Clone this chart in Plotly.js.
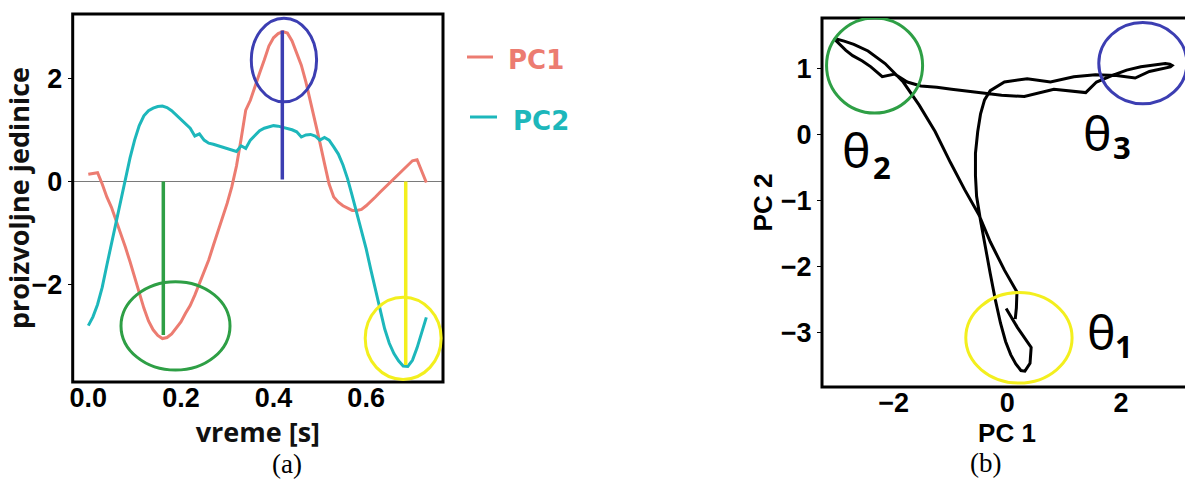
<!DOCTYPE html>
<html><head><meta charset="utf-8">
<script src="https://cdn.plot.ly/plotly-3.0.1.min.js"></script>
<style>html,body{margin:0;padding:0;overflow:hidden;background:#fff}#chart{width:1195px;height:479px}</style>
</head><body><div id="chart"></div>
<script>
// ---- data ----
const time = [0.00,0.01,0.02,0.03,0.04,0.05,0.06,0.07,0.08,0.09,
              0.10,0.11,0.12,0.13,0.14,0.15,0.16,0.17,0.18,0.19,
              0.20,0.21,0.22,0.23,0.24,0.25,0.26,0.27,0.28,0.29,
              0.30,0.31,0.32,0.33,0.34,0.35,0.36,0.37,0.38,0.39,
              0.40,0.41,0.42,0.43,0.44,0.45,0.46,0.47,0.48,0.49,
              0.50,0.51,0.52,0.53,0.54,0.55,0.56,0.57,0.58,0.59,
              0.60,0.61,0.62,0.63,0.64,0.65,0.66,0.67,0.68,0.69,
              0.70,0.71,0.72,0.73];
const pc1 = [0.14,0.16,0.17,-0.05,-0.30,-0.50,-0.75,-1.00,-1.27,-1.55,
             -1.83,-2.15,-2.45,-2.70,-2.87,-2.98,-3.04,-3.02,-2.95,-2.84,
             -2.72,-2.55,-2.40,-2.20,-1.98,-1.76,-1.52,-1.24,-0.98,-0.70,
             -0.42,-0.10,0.30,0.82,1.38,1.57,1.85,2.10,2.35,2.62,
             2.78,2.86,2.90,2.87,2.72,2.50,2.25,1.92,1.55,1.17,
             0.76,0.35,-0.05,-0.30,-0.40,-0.47,-0.52,-0.56,-0.56,-0.54,
             -0.47,-0.39,-0.30,-0.21,-0.12,-0.03,0.06,0.15,0.24,0.31,
             0.40,0.42,0.18,-0.02];
const pc2 = [-2.79,-2.62,-2.38,-2.05,-1.62,-1.21,-0.83,-0.42,0.05,0.45,
             0.80,1.08,1.27,1.37,1.42,1.45,1.46,1.43,1.37,1.28,
             1.20,1.12,1.03,0.88,0.92,0.80,0.74,0.72,0.69,0.66,
             0.63,0.60,0.58,0.69,0.64,0.80,0.90,0.98,1.03,1.06,
             1.08,1.07,1.05,1.03,1.00,0.96,0.86,0.90,0.91,0.88,
             0.80,0.85,0.80,0.67,0.53,0.32,0.05,-0.28,-0.62,-0.93,
             -1.30,-1.70,-2.10,-2.50,-2.85,-3.13,-3.33,-3.47,-3.57,-3.58,
             -3.46,-3.22,-2.92,-2.63];
const seriesNames = ['PC1', 'PC2'];
const leftXTicks = [0, 0.2, 0.4, 0.6];
const leftYTicks = [-2, 0, 2];
const rightXTicks = [-2, 0, 2];
const rightYTicks = [-3, -2, -1, 0, 1];
const phaseLabels = ['\u03b8', '\u03b8', '\u03b8'];
const phaseSubs = ['1', '2', '3'];
// marked moments (time, PC value) on panel (a)
const markTimes = [0.162, 0.419, 0.6855];
const markValues = [-2.97, 2.92, -3.55];

// ---- styling / layout ----
const W = 1195, H = 479;
const px = X => X / W, py = Y => 1 - Y / H;
const C1 = '#EC7C71', C2 = '#1DB7BB';
const GREEN = '#2E9F45', BLUE = '#3C3EB2', YELLOW = '#F3EF1E';
const tickFont = {family: 'Liberation Sans, Arial, sans-serif', size: 27, color: '#000', weight: 'bold'};
const titleFont = {family: 'Open Sans, sans-serif', size: 27, color: '#111', weight: 'bold'};
const titleFont2 = {family: 'Liberation Sans, Arial, sans-serif', size: 26, color: '#000', weight: 'bold'};

const leftDomY = [1 - 382 / H, 1 - 14 / H];
const rightDomY = [1 - 387 / H, 1 - 18 / H];

const traces = [
  {x: time, y: pc1, name: seriesNames[0], mode: 'lines', line: {color: C1, width: 3}, xaxis: 'x', yaxis: 'y'},
  {x: time, y: pc2, name: seriesNames[1], mode: 'lines', line: {color: C2, width: 3}, xaxis: 'x', yaxis: 'y'},
  {x: pc1, y: pc2, name: 'trajektorija', mode: 'lines', line: {color: '#000', width: 3}, xaxis: 'x2', yaxis: 'y2'}
];

const axisCommon = {showline: false, showgrid: false, tickfont: tickFont, fixedrange: true};
const yTicks = {ticks: 'outside', ticklen: 4, tickwidth: 1, tickcolor: '#000'};

const frame = (xr, yr) => ({type: 'rect', xref: xr + ' domain', yref: yr + ' domain', x0: 0, x1: 1, y0: 0, y1: 1,
  line: {color: '#000', width: 3}, layer: 'above'});

const shapes = [
  frame('x', 'y'), frame('x2', 'y2'),
  // panel (a) marker lines
  {type: 'line', xref: 'x', yref: 'y', x0: markTimes[0], x1: markTimes[0], y0: 0, y1: markValues[0], line: {color: GREEN, width: 3.5}},
  {type: 'line', xref: 'x', yref: 'y', x0: markTimes[1], x1: markTimes[1], y0: 0.04, y1: markValues[1], line: {color: BLUE, width: 3.5}},
  {type: 'line', xref: 'x', yref: 'y', x0: markTimes[2], x1: markTimes[2], y0: 0, y1: markValues[2], line: {color: YELLOW, width: 3.5}},
  // panel (a) ellipses
  {type: 'circle', xref: 'x', yref: 'y', x0: 0.0706, x1: 0.306, y0: -1.94, y1: -3.65, line: {color: GREEN, width: 3}},
  {type: 'circle', xref: 'x', yref: 'y', x0: 0.352, x1: 0.493, y0: 3.16, y1: 1.54, line: {color: BLUE, width: 3}},
  {type: 'circle', xref: 'x', yref: 'y', x0: 0.598, x1: 0.762, y0: -2.24, y1: -3.83, line: {color: YELLOW, width: 3}},
  // panel (b) circles
  {type: 'circle', xref: 'x2', yref: 'y2', x0: -3.18, x1: -1.49, y0: 1.77, y1: 0.33, line: {color: GREEN, width: 3}},
  {type: 'circle', xref: 'x2', yref: 'y2', x0: 1.61, x1: 3.16, y0: 1.70, y1: 0.47, line: {color: BLUE, width: 3}},
  {type: 'circle', xref: 'x2', yref: 'y2', x0: -0.73, x1: 1.14, y0: -2.39, y1: -3.76, line: {color: YELLOW, width: 3}},
  // legend dashes
  {type: 'line', xref: 'paper', yref: 'paper', x0: px(467), x1: px(493), y0: py(57), y1: py(57), line: {color: C1, width: 3}},
  {type: 'line', xref: 'paper', yref: 'paper', x0: px(470), x1: px(497), y0: py(117), y1: py(117), line: {color: C2, width: 3}}
];

const legFont = c => ({family: 'DejaVu Sans, sans-serif', size: 26, color: c, weight: 'bold'});
const thetaFont = {family: 'Noto Sans, sans-serif', size: 48, color: '#000'};
const subFont = {family: 'Open Sans, sans-serif', size: 31, color: '#000', weight: 'bold'};
const capFont = {family: 'Liberation Serif, Times New Roman, serif', size: 27, color: '#000'};
const ann = (text, X, Y, font, xa, ya) => ({text, x: px(X), y: py(Y), xref: 'paper', yref: 'paper',
  xanchor: xa || 'center', yanchor: ya || 'middle', showarrow: false, font});

const annotations = [
  ann(seriesNames[0], 506, 60, legFont(C1), 'left'),
  ann(seriesNames[1], 511, 121, legFont(C2), 'left'),
  ann(phaseLabels[1], 856, 150, thetaFont),
  ann(phaseSubs[1], 882, 167, subFont),
  ann(phaseLabels[2], 1097, 132, thetaFont),
  ann(phaseSubs[2], 1122, 147, subFont),
  ann(phaseLabels[0], 1101, 331, thetaFont),
  ann(phaseSubs[0], 1124, 346, subFont),
  ann('(a)', 287, 464, capFont),
  ann('(b)', 985, 463, capFont)
];

const layout = {
  width: W, height: H, margin: {l: 0, r: 0, t: 0, b: 0},
  paper_bgcolor: '#fff', plot_bgcolor: '#fff', showlegend: false,
  xaxis: Object.assign({}, axisCommon, {domain: [px(72.7), px(443)], range: [-0.0337, 0.766],
    anchor: 'free', position: leftDomY[0] + 3 / H, ticks: '',
    tickvals: leftXTicks, tickformat: '.1f', zeroline: false,
    title: {text: 'vreme [s]', font: titleFont, standoff: 0}}),
  yaxis: Object.assign({}, axisCommon, yTicks, {domain: leftDomY, range: [-3.88, 3.24],
    tickvals: leftYTicks, zeroline: true, zerolinecolor: '#7a7a7a', zerolinewidth: 1,
    title: {text: 'proizvoljne jedinice', font: titleFont, standoff: 0}}),
  xaxis2: Object.assign({}, axisCommon, {domain: [px(822), px(1192)], range: [-3.26, 3.25],
    anchor: 'free', position: rightDomY[0] + 3 / H, ticks: '',
    tickvals: rightXTicks, zeroline: false,
    title: {text: 'PC 1', font: titleFont2, standoff: 0}}),
  yaxis2: Object.assign({}, axisCommon, yTicks, {domain: rightDomY, range: [-3.82, 1.77],
    tickvals: rightYTicks, zeroline: false, anchor: 'x2',
    title: {text: 'PC 2', font: titleFont2, standoff: 0}}),
  shapes, annotations
};

Plotly.newPlot('chart', traces, layout, {staticPlot: true, displayModeBar: false});
</script></body></html>
